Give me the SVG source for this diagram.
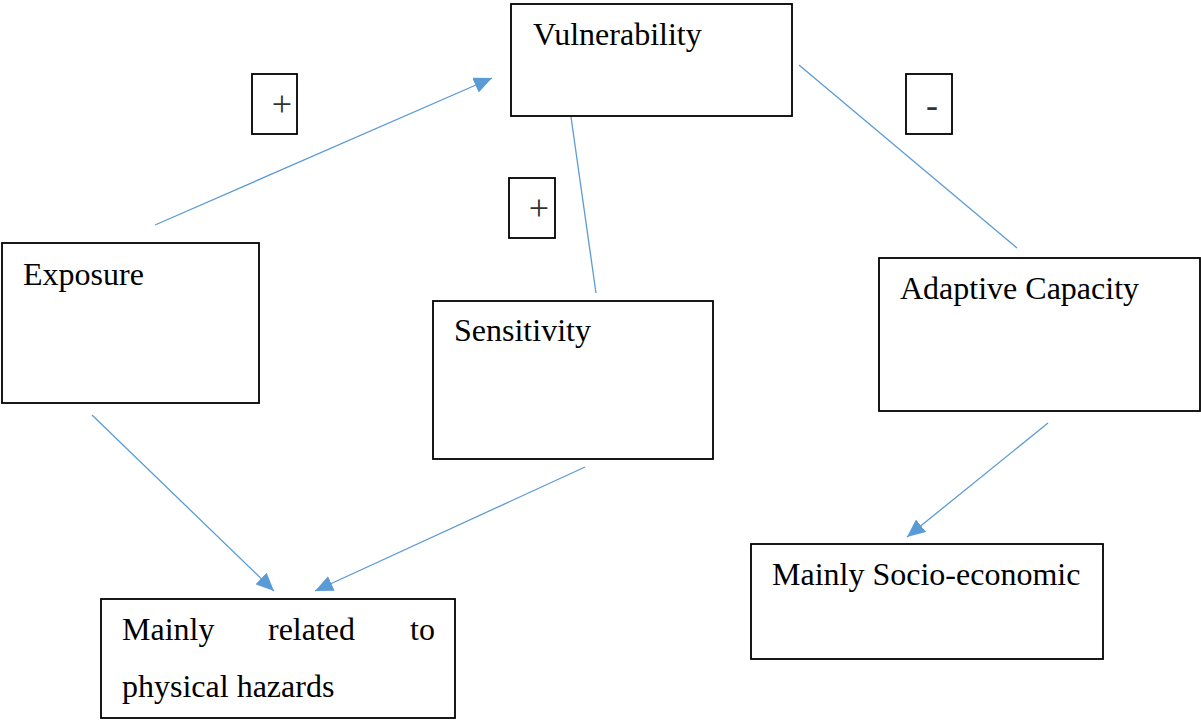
<svg xmlns="http://www.w3.org/2000/svg" width="1201" height="721" viewBox="0 0 1201 721">
<style>
.box{fill:#fff;stroke:#000;stroke-width:1.8}
.t{font-family:"Liberation Serif","Times New Roman",serif;font-size:32px;fill:#000}
.sign{font-family:"Liberation Serif","Times New Roman",serif;font-size:36px;fill:#333;text-anchor:middle}
.c{stroke:#5B9BD5;stroke-width:1.3;fill:none}
</style>
<defs>
<marker id="ah" viewBox="0 0 18 16" refX="18" refY="8" markerWidth="18" markerHeight="16" markerUnits="userSpaceOnUse" orient="auto">
<path d="M0,0 L18,8 L0,16 z" fill="#5B9BD5"/>
</marker>
</defs>
<rect width="1201" height="721" fill="#fff"/>
<g id="connectors">
<line class="c" x1="155" y1="225" x2="492" y2="78" marker-end="url(#ah)"/>
<line class="c" x1="571" y1="117" x2="596" y2="293"/>
<line class="c" x1="799" y1="65" x2="1017" y2="248"/>
<line class="c" x1="92" y1="415" x2="274" y2="591" marker-end="url(#ah)"/>
<line class="c" x1="585" y1="467" x2="315" y2="591" marker-end="url(#ah)"/>
<line class="c" x1="1048" y1="423" x2="907" y2="537" marker-end="url(#ah)"/>
</g>
<g id="vulnerability">
<rect class="box" x="511" y="4" width="281" height="112"/>
<text class="t" x="533" y="45">Vulnerability</text>
</g>
<g id="exposure">
<rect class="box" x="2" y="243" width="257" height="160"/>
<text class="t" x="23" y="285">Exposure</text>
</g>
<g id="sensitivity">
<rect class="box" x="433" y="301" width="280" height="158"/>
<text class="t" x="454" y="341">Sensitivity</text>
</g>
<g id="adaptive">
<rect class="box" x="879" y="258" width="321" height="153"/>
<text class="t" x="900" y="299">Adaptive Capacity</text>
</g>
<g id="socio">
<rect class="box" x="751" y="544" width="352" height="115"/>
<text class="t" x="772" y="585">Mainly Socio-economic</text>
</g>
<g id="physical">
<rect class="box" x="101" y="599" width="354" height="119"/>
<text class="t" y="640"><tspan x="122">Mainly</tspan><tspan x="268">related</tspan><tspan x="410">to</tspan></text>
<text class="t" x="122" y="697">physical hazards</text>
</g>
<g id="plus1">
<rect class="box" x="252" y="74" width="45" height="60"/>
<text class="sign" x="282" y="116">+</text>
</g>
<g id="plus2">
<rect class="box" x="509" y="178" width="46" height="60"/>
<text class="sign" x="539" y="220">+</text>
</g>
<g id="minus">
<rect class="box" x="906" y="74" width="46" height="60"/>
<text class="sign" x="932" y="117">-</text>
</g>
</svg>
